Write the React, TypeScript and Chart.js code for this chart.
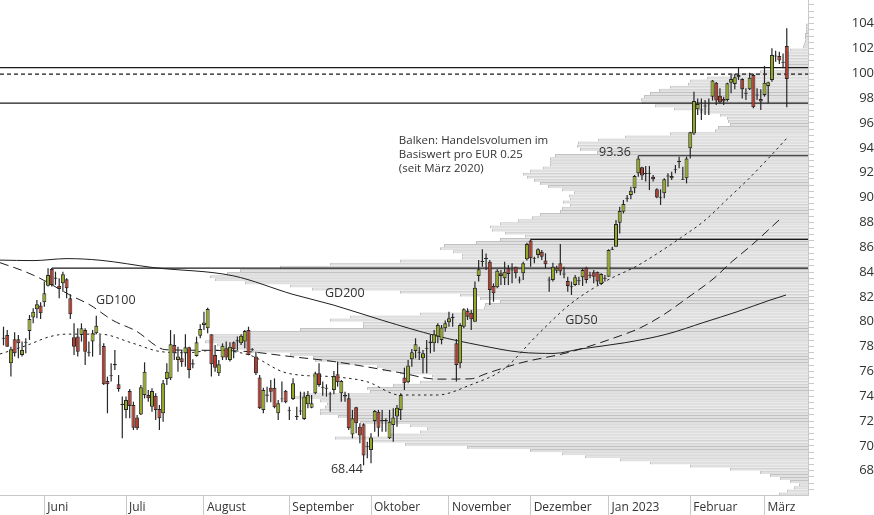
import React, { useEffect, useRef } from 'react';
import { Chart, registerables } from 'chart.js';

Chart.register(...registerables);

// ---- candles (trading-day index 0 = 17 May 2022) ----
const candleOpen = [
  78.62, 78.93, 76.65, 78.58, 78.58, 77.32, 78.3, 79.26, 80.33, 81.0,
  81.3, 81.56, 82.9, 84.25, 83.45, 82.9, 83.09, 83.42, 81.89, 78.75,
  78.8, 78.93, 79.33, 77.5, 78.4, 79.07, 78.1, 78.05, 75.23, 75.6,
  76.5, 74.96, 73.3, 72.9, 74.42, 73.3, 72.28, 72.54, 74.1, 74.1,
  73.16, 74.05, 72.97, 72.63, 75.39, 75.44, 78.13, 76.92, 77.05, 77.46,
  77.94, 76.55, 77.24, 78.88, 79.74, 79.47, 78.99, 77.32, 75.85, 77.11,
  77.86, 76.92, 78.34, 78.4, 78.26, 78.4, 79.33, 77.75, 77.19, 75.5,
  72.9, 74.05, 74.69, 74.69, 72.63, 73.75, 74.45, 72.8, 73.78, 72.32,
  72.78, 72.17, 73.35, 73.08, 74.24, 75.85, 74.68, 74.6, 74.15, 74.5,
  75.77, 74.24, 74.1, 73.83, 70.93, 73.11, 71.55, 71.74, 69.9, 69.67,
  72.01, 72.76, 72.0, 72.0, 70.61, 71.69, 72.36, 72.9, 75.5, 75.12,
  76.97, 77.64, 77.5, 77.05, 77.82, 78.26, 78.26, 78.8, 78.53, 79.47,
  79.95, 80.41, 78.26, 76.65, 79.6, 80.89, 80.73, 80.0, 83.68, 84.8,
  85.05, 84.83, 82.88, 82.77, 83.9, 83.5, 84.3, 84.12, 84.43, 83.32,
  83.9, 85.02, 86.53, 85.06, 85.37, 85.64, 84.92, 83.32, 83.36, 84.1,
  84.7, 83.8, 83.28, 82.78, 82.96, 83.26, 83.57, 84.35, 83.7, 83.98,
  84.03, 83.04, 83.46, 83.63, 85.8, 86.04, 87.97, 88.86, 89.9, 90.2,
  90.74, 91.95, 92.43, 91.9, 91.92, 91.68, 90.66, 89.98, 90.34, 91.7,
  91.54, 92.24, 92.86, 91.42, 91.54, 93.96, 95.16, 97.1, 97.0, 97.33,
  97.5, 98.12, 99.24, 98.2, 97.93, 97.85, 99.24, 99.14, 99.86, 99.54,
  98.35, 98.71, 99.86, 98.22, 97.93, 98.25, 98.98, 99.46, 101.35, 101.39,
  100.85, 102.2,
];
const candleHigh = [
  79.6, 79.33, 77.99, 79.15, 78.93, 78.4, 78.67, 80.54, 81.08, 81.75,
  81.56, 83.23, 84.3, 84.32, 84.03, 83.5, 84.03, 83.5, 82.21, 79.87,
  79.47, 79.87, 79.47, 78.4, 79.33, 80.49, 78.93, 78.26, 75.58, 76.65,
  77.73, 75.71, 73.97, 73.97, 74.58, 73.56, 72.49, 74.91, 76.73, 74.5,
  74.64, 74.24, 73.3, 75.31, 76.65, 79.33, 78.99, 77.99, 77.73, 78.99,
  77.99, 76.97, 78.8, 79.79, 80.81, 81.13, 78.99, 78.13, 76.92, 78.26,
  78.4, 78.34, 78.4, 78.8, 78.99, 79.33, 79.6, 77.86, 77.59, 75.71,
  74.69, 74.77, 75.31, 75.44, 73.7, 75.18, 74.5, 73.16, 75.44, 73.16,
  74.37, 74.37, 74.42, 74.1, 75.98, 76.65, 75.18, 74.96, 74.37, 76.03,
  76.79, 75.31, 74.37, 74.24, 72.9, 73.16, 71.82, 71.82, 70.34, 71.02,
  72.9, 72.9, 72.9, 72.22, 72.9, 73.03, 73.3, 74.24, 76.3, 76.92,
  77.8, 78.67, 77.99, 77.73, 78.53, 78.93, 79.33, 79.87, 79.74, 80.1,
  80.81, 80.67, 78.6, 79.87, 81.08, 81.08, 80.94, 83.23, 84.97, 85.83,
  85.5, 84.97, 83.09, 84.22, 84.16, 84.83, 84.57, 84.7, 84.43, 83.63,
  84.83, 86.36, 86.63, 85.24, 85.91, 85.77, 85.51, 83.63, 84.75, 84.5,
  86.25, 84.43, 83.63, 83.23, 83.76, 83.63, 84.3, 84.43, 84.03, 84.16,
  84.03, 83.9, 83.76, 85.83, 86.04, 88.19, 89.26, 89.8, 90.2, 90.87,
  91.81, 93.36, 92.48, 92.54, 92.54, 91.81, 90.74, 90.66, 91.54, 91.95,
  92.08, 92.62, 93.29, 92.48, 93.29, 95.3, 98.52, 97.98, 97.98, 97.85,
  97.98, 99.46, 99.3, 98.79, 98.12, 99.24, 99.86, 99.94, 100.48, 99.6,
  98.79, 100.05, 99.94, 98.79, 98.71, 100.59, 99.32, 102.01, 101.82, 101.74,
  101.6, 103.62,
];
const candleLow = [
  78.1, 77.99, 75.58, 77.19, 77.05, 77.19, 77.46, 78.53, 79.87, 80.28,
  80.22, 81.21, 82.83, 82.83, 82.96, 81.89, 82.42, 81.89, 80.22, 77.32,
  77.19, 78.4, 76.52, 77.19, 77.19, 78.99, 77.32, 74.9, 72.63, 75.18,
  76.12, 74.37, 70.61, 72.22, 72.22, 71.28, 71.28, 72.49, 73.83, 73.56,
  72.76, 72.09, 71.28, 71.95, 74.91, 75.31, 76.92, 75.98, 76.38, 76.38,
  75.44, 76.25, 77.19, 78.67, 79.33, 79.07, 75.58, 75.98, 75.63, 76.92,
  76.92, 76.79, 77.05, 77.73, 78.13, 77.86, 77.3, 77.65, 75.71, 72.97,
  72.63, 73.51, 73.51, 73.03, 72.09, 73.51, 73.43, 72.09, 73.7, 72.09,
  72.49, 72.09, 73.03, 73.03, 74.16, 74.77, 74.05, 73.97, 72.76, 74.16,
  74.77, 73.56, 73.56, 71.28, 70.61, 71.02, 70.21, 68.44, 69.0, 68.6,
  71.15, 70.75, 71.15, 71.15, 70.56, 70.34, 71.55, 72.09, 74.5, 75.04,
  76.38, 77.05, 76.92, 75.85, 75.85, 77.46, 77.59, 78.26, 78.18, 79.2,
  79.6, 79.6, 75.18, 76.25, 79.47, 80.14, 79.33, 80.0, 83.23, 84.43,
  84.16, 81.35, 81.61, 82.69, 82.96, 82.96, 82.96, 83.09, 83.5, 83.09,
  83.36, 84.92, 84.43, 84.7, 85.1, 84.97, 84.3, 82.42, 83.23, 83.9,
  83.75, 83.5, 82.42, 82.15, 82.88, 82.96, 82.88, 83.09, 83.5, 83.09,
  82.96, 82.96, 83.23, 83.63, 85.77, 86.04, 87.11, 88.72, 89.66, 89.85,
  90.34, 91.68, 91.41, 91.28, 90.6, 91.28, 89.93, 89.4, 89.93, 90.87,
  91.41, 91.95, 92.35, 91.41, 91.14, 93.15, 95.03, 96.64, 96.24, 96.64,
  96.64, 97.8, 97.45, 97.58, 97.45, 97.72, 98.39, 98.71, 99.46, 97.98,
  97.85, 98.66, 97.18, 97.85, 97.04, 98.12, 97.58, 99.32, 100.93, 100.75,
  100.4, 97.26,
];
const candleClose = [
  78.7, 77.99, 77.78, 77.46, 78.26, 77.73, 78.38, 80.22, 80.81, 81.4,
  80.68, 82.29, 83.76, 82.96, 83.55, 82.64, 83.82, 82.69, 80.6, 77.99,
  77.59, 79.47, 77.59, 77.58, 79.07, 79.68, 78.15, 74.96, 74.96, 75.7,
  76.6, 74.58, 73.4, 73.7, 73.22, 71.47, 71.42, 74.72, 75.98, 73.83,
  74.42, 72.9, 72.22, 75.04, 75.98, 78.18, 77.46, 77.19, 76.73, 77.94,
  76.12, 76.65, 78.34, 79.42, 79.93, 81.03, 76.57, 76.3, 76.57, 78.07,
  77.11, 77.99, 77.78, 78.5, 78.88, 79.26, 77.32, 77.82, 75.85, 73.03,
  74.5, 74.15, 74.37, 73.11, 73.43, 73.82, 73.51, 72.88, 75.04, 72.4,
  72.85, 73.97, 74.1, 73.43, 75.85, 74.91, 74.76, 74.68, 74.22, 75.63,
  75.12, 75.23, 73.97, 71.42, 72.22, 71.82, 70.83, 69.22, 69.98, 70.67,
  72.81, 71.47, 72.08, 72.08, 71.95, 72.28, 73.08, 74.1, 75.04, 76.47,
  77.54, 78.18, 77.58, 77.46, 77.9, 78.4, 78.99, 79.74, 79.53, 79.87,
  80.28, 80.27, 76.51, 79.74, 81.0, 80.41, 80.19, 82.74, 84.22, 84.88,
  85.13, 82.55, 82.29, 84.11, 83.68, 84.03, 83.84, 84.2, 83.9, 83.4,
  84.7, 86.26, 85.1, 85.14, 85.83, 85.24, 84.62, 83.4, 84.43, 84.35,
  84.05, 83.88, 82.88, 82.86, 83.57, 83.34, 84.16, 83.36, 83.78, 83.63,
  83.23, 83.84, 83.54, 85.77, 85.88, 87.87, 88.91, 89.48, 89.98, 90.55,
  91.73, 93.15, 91.77, 91.98, 92.0, 91.46, 90.01, 90.05, 91.46, 91.77,
  91.73, 92.3, 92.93, 91.5, 93.15, 95.25, 97.77, 97.53, 97.08, 97.4,
  97.56, 99.41, 97.8, 97.64, 97.72, 99.19, 99.54, 99.68, 99.68, 98.71,
  98.43, 99.65, 97.26, 98.3, 97.72, 99.24, 99.27, 101.47, 101.43, 101.02,
  100.92, 99.54,
];

// ---- moving averages: [trading-day index, price] ----
const gd50: [number, number][] = [
  [-0.94, 77.4], [6.3, 78.1], [12.5, 78.8], [17.1, 79.0], [26.0, 79.0], [34.9, 78.26],
  [42.2, 77.6], [49.4, 77.5], [56.4, 77.7], [66.4, 77.3], [75.3, 75.96], [79.9, 75.7],
  [88.8, 75.57], [97.9, 75.17], [106.8, 74.1], [116.8, 74.1], [125.7, 74.9], [134.8, 76.2],
  [143.7, 78.9], [152.6, 81.4], [161.8, 83.2], [170.7, 84.5], [177.7, 85.8], [183.6, 87.0],
  [188.7, 88.1], [195.7, 90.07], [200.6, 91.46], [206.5, 93.3], [211.1, 94.8],
];
const gd100: [number, number][] = [
  [-0.94, 84.75], [5.25, 84.1], [9.8, 83.5], [17.9, 82.15], [23.3, 81.35], [29.5, 80.1],
  [36.0, 79.2], [41.4, 78.0], [43.5, 77.75], [54.3, 77.7], [65.6, 77.6], [77.2, 77.2],
  [88.8, 76.8], [106.8, 75.9], [116.8, 75.38], [125.7, 75.4], [130.3, 75.85], [139.1, 76.67],
  [152.6, 77.56], [165.0, 78.75], [171.5, 79.5], [178.0, 80.6], [184.1, 81.89], [191.4, 83.5],
  [195.7, 84.7], [201.6, 86.18], [209.7, 88.4],
];
const gd200: [number, number][] = [
  [-0.94, 84.96], [7.95, 84.92], [17.1, 85.08], [26.0, 84.95], [40.3, 84.36], [61.8, 83.7],
  [78.0, 82.2], [88.8, 81.35], [102.2, 80.1], [116.8, 78.85], [128.4, 78.1], [139.1, 77.55],
  [148.3, 77.45], [155.3, 77.8], [167.2, 78.3], [178.7, 79.0], [188.7, 79.95], [197.6, 80.8],
  [206.5, 81.74], [210.8, 82.15],
];

// ---- horizontal levels: [start index, price, dashed] ----
const levelLines: [number, number, boolean][] = [
  [-0.94, 100.45, false],
  [-0.94, 99.93, true],
  [-0.94, 97.6, false],
  [171, 93.36, false],
  [142, 86.63, false],
  [13, 84.32, false],
];

// ---- volume profile: [price bin centre (EUR 0.25 bins), relative volume] ----
const volumeProfile: [number, number][] = [
  [103.875, 2], [103.625, 2], [103.375, 2], [103.125, 3], [102.875, 3], [102.625, 3],
  [102.375, 4], [102.125, 5], [101.875, 18], [101.625, 21], [101.375, 21], [101.125, 21],
  [100.875, 21], [100.625, 21], [100.375, 23], [100.125, 48], [99.875, 76], [99.625, 101],
  [99.375, 118], [99.125, 120], [98.875, 138], [98.625, 149], [98.375, 158], [98.125, 164],
  [97.875, 167], [97.625, 166], [97.375, 153], [97.125, 134], [96.875, 108], [96.625, 88],
  [96.375, 81], [96.125, 80], [95.875, 78], [95.625, 90], [95.375, 93], [95.125, 138],
  [94.875, 183], [94.625, 210], [94.375, 230], [94.125, 231], [93.875, 228], [93.625, 211],
  [93.375, 253], [93.125, 258], [92.875, 258], [92.625, 258], [92.375, 265], [92.125, 278],
  [91.875, 285], [91.625, 281], [91.375, 274], [91.125, 268], [90.875, 260], [90.625, 246],
  [90.375, 234], [90.125, 239], [89.875, 238], [89.625, 245], [89.375, 238], [89.125, 246],
  [88.875, 248], [88.625, 268], [88.375, 276], [88.125, 290], [87.875, 308], [87.625, 318],
  [87.375, 316], [87.125, 303], [86.875, 283], [86.625, 308], [86.375, 332], [86.125, 364],
  [85.875, 368], [85.625, 355], [85.375, 346], [85.125, 346], [84.875, 408], [84.625, 478],
  [84.375, 528], [84.125, 568], [83.875, 581], [83.625, 598], [83.375, 593], [83.125, 563],
  [82.875, 518], [82.625, 496], [82.375, 408], [82.125, 348], [81.875, 328], [81.625, 308],
  [81.375, 323], [81.125, 324], [80.875, 340], [80.625, 388], [80.375, 458], [80.125, 478],
  [79.875, 445], [79.625, 445], [79.375, 508], [79.125, 560], [78.875, 595], [78.625, 595],
  [78.375, 603], [78.125, 591], [77.875, 588], [77.625, 555], [77.375, 518], [77.125, 495],
  [76.875, 493], [76.625, 471], [76.375, 431], [76.125, 425], [75.875, 408], [75.625, 376],
  [75.375, 376], [75.125, 388], [74.875, 415], [74.625, 441], [74.375, 438], [74.125, 508],
  [73.875, 515], [73.625, 488], [73.375, 481], [73.125, 483], [72.875, 488], [72.625, 488],
  [72.375, 470], [72.125, 461], [71.875, 448], [71.625, 398], [71.375, 381], [71.125, 388],
  [70.875, 418], [70.625, 473], [70.375, 438], [70.125, 403], [69.875, 341], [69.625, 278],
  [69.375, 246], [69.125, 223], [68.875, 188], [68.625, 158], [68.375, 118], [68.125, 78],
  [67.875, 48], [67.625, 38], [67.375, 28], [67.125, 18], [66.875, 9], [66.625, 14],
  [66.375, 21], [66.125, 29],
];

// ---- axes ----
const monthTickIndex = [11, 33, 54, 77, 99, 120, 142, 163, 185, 205];
const monthLabels = ['Juni', 'Juli', 'August', 'September', 'Oktober', 'November', 'Dezember', 'Jan 2023', 'Februar', 'März'];
const priceLabels = [68, 70, 72, 74, 76, 78, 80, 82, 84, 86, 88, 90, 92, 94, 96, 98, 100, 102, 104];
const priceMinorStep = 0.5;
const X_MIN = -0.943;
const X_MAX = 216.72;
const Y_MIN = 66.05;
const Y_MAX = 105.9;
const PROFILE_MAX = 808;

// ---- text notes: [text, index, price, align, size] ----
const notes: [string, number, number, CanvasTextAlign, number][] = [
  ['GD100', 24.9, 81.75, 'left', 12.5],
  ['GD200', 86.6, 82.3, 'left', 12.5],
  ['GD50', 151.3, 80.14, 'left', 12.5],
  ['93.36', 169.0, 93.6, 'right', 12.5],
  ['68.44', 88.2, 68.07, 'left', 12.5],
  ['Balken: Handelsvolumen im', 106.5, 94.57, 'left', 11.5],
  ['Basiswert pro EUR 0.25', 106.5, 93.48, 'left', 11.5],
  ['(seit März 2020)', 106.5, 92.35, 'left', 11.5],
];

const GREEN = '#97aa22';
const RED = '#b63a2a';
const DARK = '#262626';
const FONT = '"Open Sans", "Noto Sans", sans-serif';

const notesPlugin = {
  id: 'notes',
  afterDatasetsDraw(chart: any) {
    const { ctx } = chart;
    const xs = chart.scales.x;
    const ys = chart.scales.y;
    ctx.save();
    ctx.fillStyle = '#333';
    ctx.textBaseline = 'middle';
    for (const [text, k, v, align, size] of notes) {
      ctx.font = `${size}px ${FONT}`;
      ctx.textAlign = align;
      ctx.fillText(text, xs.getPixelForValue(k), ys.getPixelForValue(v));
    }
    ctx.restore();
  },
};

export default function App() {
  const ref = useRef<HTMLCanvasElement | null>(null);

  useEffect(() => {
    if (!ref.current) return;
    const lineDs = (pts: [number, number][], dash: number[], label: string) => ({
      type: 'line',
      label,
      data: pts.map(([x, y]) => ({ x, y })),
      borderColor: '#1f1f1f',
      borderWidth: 1,
      borderDash: dash,
      pointRadius: 0,
      cubicInterpolationMode: 'monotone',
      fill: false,
      xAxisID: 'x',
      yAxisID: 'y',
      order: 5,
    });

    const levelDs = levelLines.map(([start, price, dashed], i) => ({
      type: 'line',
      label: 'level' + i,
      data: [{ x: start, y: price }, { x: X_MAX, y: price }],
      borderColor: '#1a1a1a',
      borderWidth: 1.2,
      borderDash: dashed ? [4, 3] : [],
      pointRadius: 0,
      fill: false,
      xAxisID: 'x',
      yAxisID: 'y',
      order: 4,
    }));

    const chart = new Chart(ref.current, {
      type: 'bar',
      data: {
        datasets: [
          {
            type: 'bar',
            label: 'body',
            data: candleOpen.map((o, i) => ({ x: i, y: [o, candleClose[i]] })),
            backgroundColor: candleOpen.map((o, i) => (candleClose[i] >= o ? GREEN : RED)),
            borderColor: DARK,
            borderWidth: 1,
            borderSkipped: false,
            barThickness: 4,
            inflateAmount: 0,
            grouped: false,
            xAxisID: 'x',
            yAxisID: 'y',
            order: 1,
          },
          {
            type: 'bar',
            label: 'wick',
            data: candleLow.map((l, i) => ({ x: i, y: [l, candleHigh[i]] })),
            backgroundColor: DARK,
            borderWidth: 0,
            barThickness: 1.2,
            inflateAmount: 0,
            grouped: false,
            xAxisID: 'x',
            yAxisID: 'y',
            order: 2,
          },
          ...levelDs,
          lineDs(gd50, [2.5, 3.5], 'GD50'),
          lineDs(gd100, [9, 5], 'GD100'),
          lineDs(gd200, [], 'GD200'),
          {
            type: 'bar',
            label: 'profile',
            indexAxis: 'y',
            data: volumeProfile.map(([p, v]) => ({ x: v, y: p })),
            backgroundColor: '#e0e0e0',
            borderColor: '#c2c2c2',
            borderWidth: { top: 1, left: 1, right: 0, bottom: 0 },
            borderSkipped: false,
            barThickness: 3.1,
            inflateAmount: 0,
            grouped: false,
            xAxisID: 'xv',
            yAxisID: 'y',
            order: 10,
          },
        ] as any,
      },
      options: {
        responsive: false,
        animation: false,
        events: [],
        layout: { padding: 0 },
        plugins: {
          legend: { display: false },
          tooltip: { enabled: false },
        },
        scales: {
          x: {
            type: 'linear',
            position: 'bottom',
            min: X_MIN,
            max: X_MAX,
            offset: false,
            afterBuildTicks: (s: any) => {
              s.ticks = monthTickIndex.map((v) => ({ value: v }));
            },
            afterFit: (s: any) => {
              s.height = 20;
              s.paddingLeft = 0;
              s.paddingRight = 0;
            },
            ticks: {
              autoSkip: false,
              maxRotation: 0,
              minRotation: 0,
              align: 'start',
              labelOffset: 3,
              padding: -15,
              color: '#333',
              font: { family: FONT, size: 12 },
              callback: (v: any) => {
                const i = monthTickIndex.indexOf(v);
                return i >= 0 ? monthLabels[i] : '';
              },
            },
            grid: { drawOnChartArea: false, drawTicks: true, tickLength: 20, color: '#c9c9c9', offset: false },
            border: { display: true, color: '#c9c9c9' },
          },
          y: {
            type: 'linear',
            position: 'right',
            min: Y_MIN,
            max: Y_MAX,
            offset: false,
            afterBuildTicks: (s: any) => {
              const t: any[] = [];
              for (let v = Math.ceil(Y_MIN / priceMinorStep) * priceMinorStep; v <= Y_MAX; v += priceMinorStep) {
                t.push({ value: Math.round(v * 100) / 100 });
              }
              s.ticks = t;
            },
            afterFit: (s: any) => {
              s.width = 66;
              s.paddingTop = 0;
              s.paddingBottom = 0;
            },
            ticks: {
              autoSkip: false,
              padding: 2,
              crossAlign: 'far',
              color: '#333',
              font: { family: FONT, size: 13 },
              callback: (v: any) => (priceLabels.includes(v) ? String(v) : ''),
            },
            grid: { drawOnChartArea: false, drawTicks: true, tickLength: 6, color: '#c9c9c9', offset: false },
            border: { display: true, color: '#c9c9c9' },
          },
          xv: {
            type: 'linear',
            axis: 'x',
            display: false,
            min: 0,
            max: PROFILE_MAX,
            reverse: true,
            offset: false,
          },
        } as any,
      },
      plugins: [notesPlugin],
    } as any);

    return () => chart.destroy();
  }, []);

  return (
    <div style={{ position: 'absolute', left: 0, top: 0, width: 874, height: 515, background: '#fff' }}>
      <canvas ref={ref} width={874} height={515} style={{ display: 'block' }} />
    </div>
  );
}
